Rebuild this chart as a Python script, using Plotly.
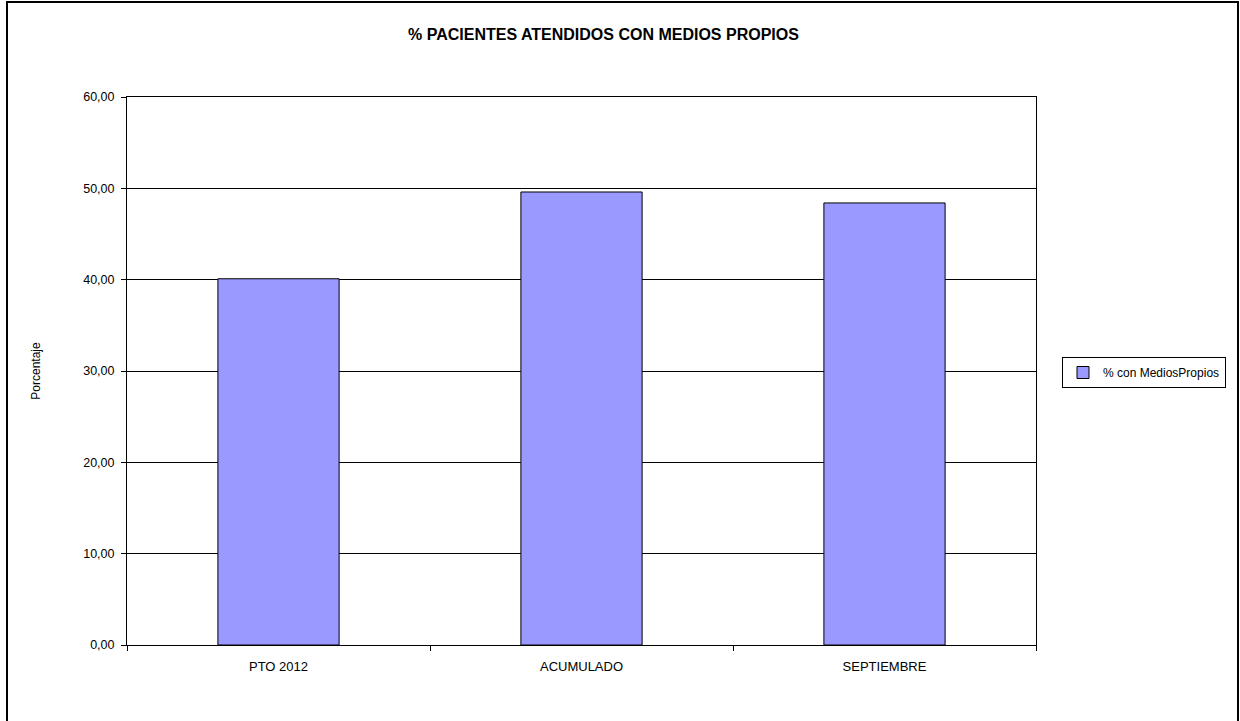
import plotly.graph_objects as go

categories = ["PTO 2012", "ACUMULADO", "SEPTIEMBRE"]
values = [40.1, 49.6, 48.4]
series_name = "% con MediosPropios"
y_ticks = [0, 10, 20, 30, 40, 50, 60]
y_tick_labels = ["0,00", "10,00", "20,00", "30,00", "40,00", "50,00", "60,00"]

W, H = 1240, 721
L, R, T, B = 127, 1036, 97, 645

def px_x(x):
    return (x - L) / (R - L)

def px_y(y):
    return (B - y) / (B - T)

FONT = "Liberation Sans, Arial, sans-serif"

fig = go.Figure()
fig.add_trace(go.Bar(
    x=categories, y=values, name=series_name,
    marker=dict(color="#9999FF", line=dict(color="#000000", width=1)),
    showlegend=True,
))

fig.update_layout(
    width=W, height=H,
    margin=dict(l=L, r=W - R, t=T, b=H - B, pad=0, autoexpand=False),
    paper_bgcolor="white", plot_bgcolor="white",
    font=dict(family=FONT, size=12, color="#000000"),
    bargap=0.6,
    showlegend=True,
    legend=dict(
        x=px_x(1062), y=px_y(357), xanchor="left", yanchor="top",
        bordercolor="#000000", borderwidth=1, bgcolor="white",
        font=dict(size=12), itemwidth=30, tracegroupgap=0,
    ),
    xaxis=dict(
        showgrid=False, showline=True, linecolor="#000000", linewidth=1,
        ticks="outside", ticklen=5, tickcolor="#000000", tickson="boundaries",
        mirror=True, tickfont=dict(size=13), ticklabelstandoff=9,
    ),
    yaxis=dict(
        range=[0, 60], tickvals=y_ticks, ticktext=y_tick_labels,
        showgrid=True, gridcolor="#000000", gridwidth=1,
        showline=True, linecolor="#000000", linewidth=1, mirror=True,
        ticks="outside", ticklen=5, tickcolor="#000000",
        tickfont=dict(size=12.5), zeroline=False, ticklabelstandoff=4,
        title=dict(text="Porcentaje", font=dict(size=12), standoff=40),
    ),
)

fig.add_annotation(
    text="<b>% PACIENTES ATENDIDOS CON MEDIOS PROPIOS</b>",
    xref="paper", yref="paper", x=px_x(603), y=px_y(34),
    xanchor="center", yanchor="middle", showarrow=False,
    font=dict(size=16, color="#000000"),
)

fig.add_shape(
    type="rect", xref="paper", yref="paper",
    x0=px_x(7), x1=px_x(1238), y0=px_y(730), y1=px_y(2),
    line=dict(color="#000000", width=2), fillcolor="rgba(0,0,0,0)", layer="above",
)

fig.write_html(
    "out.html",
    config={"displayModeBar": False},
    post_script="document.body.style.margin='0';document.body.style.overflow='hidden';",
)
